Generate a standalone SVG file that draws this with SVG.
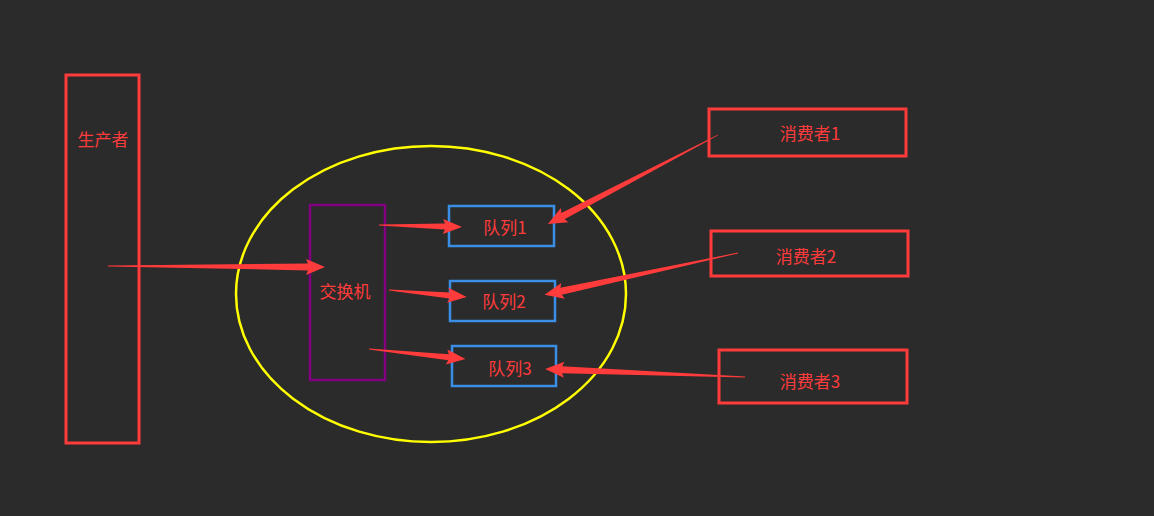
<svg xmlns="http://www.w3.org/2000/svg" width="1154" height="516" viewBox="0 0 1154 516">
<style>
.red{fill:none;stroke:#ff3b3b;stroke-width:3}
.blue{fill:none;stroke:#3a8ee6;stroke-width:2.5}
.t{fill:#ff3b3b;font-family:"Noto Sans CJK SC","Noto Sans",sans-serif;font-size:17px;text-anchor:middle;dominant-baseline:central}
.arr{fill:#ff3b3b}
</style>
<rect width="1154" height="516" fill="#2b2b2b"/>
<g id="producer"><rect class="red" x="66" y="75" width="73" height="368"/><text class="t" x="103" y="138">生产者</text></g>
<g id="broker"><ellipse cx="431" cy="294" rx="195" ry="148" fill="none" stroke="#ffff00" stroke-width="2.5"/></g>
<g id="exchange"><rect x="310" y="205" width="75" height="175" fill="none" stroke="#800080" stroke-width="2.5"/><text class="t" x="345" y="290">交换机</text></g>
<g id="queue1"><rect class="blue" x="449" y="206" width="105" height="40"/><text class="t" x="505" y="226">队列1</text></g>
<g id="queue2"><rect class="blue" x="450" y="281" width="105" height="40"/><text class="t" x="504" y="300">队列2</text></g>
<g id="queue3"><rect class="blue" x="452" y="346" width="104" height="40"/><text class="t" x="510" y="367">队列3</text></g>
<g id="consumer1"><rect class="red" x="709" y="109" width="197" height="47"/><text class="t" x="810" y="132">消费者1</text></g>
<g id="consumer2"><rect class="red" x="711" y="231" width="197" height="45"/><text class="t" x="806" y="255">消费者2</text></g>
<g id="consumer3"><rect class="red" x="719" y="350" width="188" height="53"/><text class="t" x="810" y="380">消费者3</text></g>
<g id="connectors" class="arr">
<path transform="translate(108,266) rotate(0.26)" d="M0,-0.4 L200,-3.5 L198,-8 L217,0 L198,8 L200,3.5 L0,0.4 Z"/>
<path transform="translate(379,225) rotate(1.38)" d="M0,-0.4 L66,-3 L64,-7.5 L83,0 L64,7.5 L66,3 L0,0.4 Z"/>
<path transform="translate(389,290) rotate(5.13)" d="M0,-0.4 L61,-3 L59,-7.5 L78,0 L59,7.5 L61,3 L0,0.4 Z"/>
<path transform="translate(369,349) rotate(5.89)" d="M0,-0.4 L80,-3 L78,-7.5 L97,0 L78,7.5 L80,3 L0,0.4 Z"/>
<path transform="translate(718,135) rotate(152.4)" d="M0,-0.4 L175,-3.5 L173,-8 L192,0 L173,8 L175,3.5 L0,0.4 Z"/>
<path transform="translate(738,253) rotate(167.8)" d="M0,-0.4 L181,-3.5 L179,-8 L198,0 L179,8 L181,3.5 L0,0.4 Z"/>
<path transform="translate(745,377) rotate(-177.7)" d="M0,-0.4 L183,-3.5 L181,-8 L200,0 L181,8 L183,3.5 L0,0.4 Z"/>
</g>
</svg>
